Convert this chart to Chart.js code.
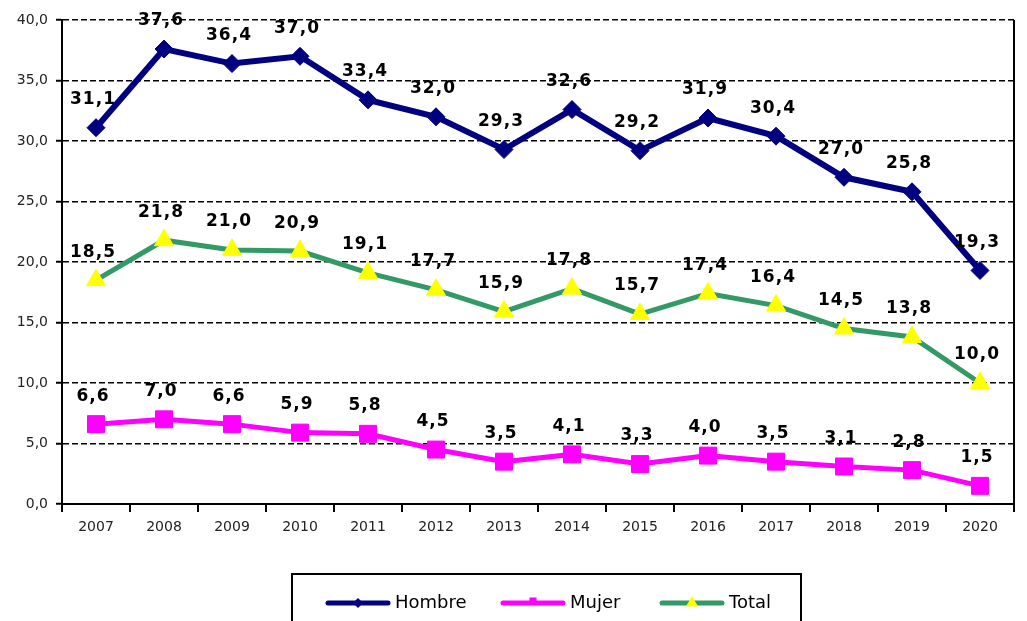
<!DOCTYPE html>
<html>
<head>
<meta charset="utf-8">
<script src="https://cdn.jsdelivr.net/npm/chart.js@4/dist/chart.umd.min.js"></script>
<style>
    body { margin: 0; background: #fff; overflow: hidden; }
    #caja { width: 1027px; height: 640px; }
</style>
</head>
<body>
<div id="caja"><canvas id="grafico" width="1027" height="640"></canvas></div>
<script>
// datos
const anios = ['2007','2008','2009','2010','2011','2012','2013','2014','2015','2016','2017','2018','2019','2020']
const hombre = [31.1, 37.6, 36.4, 37.0, 33.4, 32.0, 29.3, 32.6, 29.2, 31.9, 30.4, 27.0, 25.8, 19.3]
const mujer = [6.6, 7.0, 6.6, 5.9, 5.8, 4.5, 3.5, 4.1, 3.3, 4.0, 3.5, 3.1, 2.8, 1.5]
const total = [18.5, 21.8, 21.0, 20.9, 19.1, 17.7, 15.9, 17.8, 15.7, 17.4, 16.4, 14.5, 13.8, 10.0]
const nombres = ['Hombre', 'Mujer', 'Total']

function coma(v){
    return v.toFixed(1).replace('.', ',')
}

// etiquetas de valores encima de cada punto
const etiquetas = {
    id: 'etiquetas',
    afterDatasetsDraw(chart){
        const ctx = chart.ctx
        ctx.save()
        ctx.font = 'bold 17px "DejaVu Sans"'
        ctx.letterSpacing = '1px'
        ctx.fillStyle = '#000'
        ctx.textAlign = 'center'
        ctx.textBaseline = 'middle'
        chart.data.datasets.forEach((ds, i) => {
            const meta = chart.getDatasetMeta(i)
            meta.data.forEach((p, j) => {
                ctx.fillText(coma(ds.data[j]), p.x - 3, p.y - 28)
            })
        })
        ctx.restore()
    }
}

// borde derecho y leyenda con recuadro
const marco = {
    id: 'marco',
    afterDraw(chart){
        const ctx = chart.ctx
        const a = chart.chartArea
        ctx.save()
        ctx.strokeStyle = '#000'
        ctx.lineWidth = 2
        ctx.beginPath()
        ctx.moveTo(a.right, a.top)
        ctx.lineTo(a.right, a.bottom)
        ctx.stroke()

        ctx.lineWidth = 2
        ctx.strokeRect(292, 574, 509, 90)

        const xs = [328, 503, 662]
        const y = 603
        chart.data.datasets.forEach((ds, i) => {
            const x0 = xs[i]
            ctx.strokeStyle = ds.borderColor
            ctx.lineWidth = 5
            ctx.lineCap = 'round'
            ctx.beginPath()
            ctx.moveTo(x0, y)
            ctx.lineTo(x0 + 60, y)
            ctx.stroke()
            ctx.fillStyle = ds.pointBackgroundColor
            Chart.helpers.drawPoint(ctx, {
                pointStyle: ds.pointStyle,
                radius: ds.pointStyle === 'triangle' ? 7 : 5,
                rotation: 0,
                borderWidth: 0
            }, x0 + 30, y - (ds.pointStyle === 'rect' ? 2 : 0))
            ctx.fillStyle = '#000'
            ctx.font = '18px "DejaVu Sans"'
            ctx.textAlign = 'left'
            ctx.textBaseline = 'middle'
            ctx.fillText(nombres[i], x0 + 67, y)
        })
        ctx.restore()
    }
}

Chart.defaults.font.family = '"DejaVu Sans"'
Chart.defaults.color = '#000'

new Chart(document.getElementById('grafico'), {
    type: 'line',
    data: {
        labels: anios,
        datasets: [{
            label: nombres[0],
            data: hombre,
            borderColor: '#000080',
            backgroundColor: '#000080',
            pointBackgroundColor: '#000080',
            pointBorderColor: '#000080',
            borderWidth: 6,
            pointStyle: 'rectRot',
            pointRadius: 9,
            pointBorderWidth: 1
        }, {
            label: nombres[1],
            data: mujer,
            borderColor: '#FF00FF',
            backgroundColor: '#FF00FF',
            pointBackgroundColor: '#FF00FF',
            pointBorderColor: '#FF00FF',
            borderWidth: 5,
            pointStyle: 'rect',
            pointRadius: 12,
            pointBorderWidth: 1
        }, {
            label: nombres[2],
            data: total,
            borderColor: '#339966',
            backgroundColor: '#FFFF00',
            pointBackgroundColor: '#FFFF00',
            pointBorderColor: '#FFFF00',
            borderWidth: 5,
            pointStyle: 'triangle',
            pointRadius: 11,
            pointBorderWidth: 1
        }]
    },
    options: {
        responsive: false,
        animation: false,
        layout: { padding: { top: 20, right: 12, bottom: 96, left: 0 } },
        plugins: {
            legend: { display: false },
            tooltip: { enabled: false }
        },
        scales: {
            x: {
                offset: true,
                grid: {
                    offset: true,
                    drawOnChartArea: false,
                    color: '#000',
                    lineWidth: 2,
                    tickLength: 8
                },
                border: { color: '#000', width: 2 },
                ticks: { font: { size: 14 }, color: '#222', padding: 7 },
                afterFit(s){ s.height = 40 }
            },
            y: {
                min: 0,
                max: 40,
                ticks: {
                    stepSize: 5,
                    font: { size: 14 },
                    color: '#222',
                    padding: 8,
                    callback: v => coma(v)
                },
                grid: {
                    color: '#000',
                    lineWidth: 1.5,
                    tickLength: 6,
                    tickBorderDash: [],
                    tickColor: '#000',
                    tickWidth: 2
                },
                border: { color: '#000', width: 2, dash: [6, 3] },
                afterFit(s){ s.width = 62 }
            }
        }
    },
    plugins: [etiquetas, marco]
})
</script>
</body>
</html>
